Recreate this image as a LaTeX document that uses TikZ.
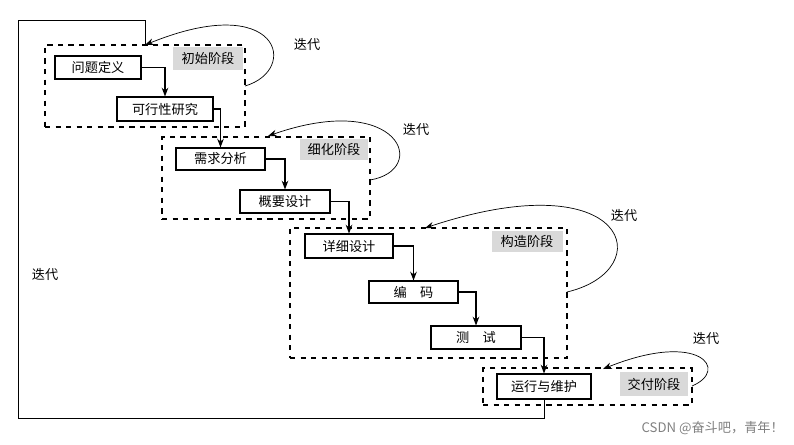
\documentclass[tikz,border=0pt]{standalone}
\usepackage{fontspec}
\newfontfamily\cjk{Noto Sans CJK SC}
\usetikzlibrary{arrows.meta}
\begin{document}
\begin{tikzpicture}[x=0.02cm, y=-0.02cm, font=\cjk\fontsize{7.5}{9}\selectfont,
  task/.style={draw, semithick, rectangle, inner sep=0pt},
  stage/.style={draw, dashed, semithick, inner sep=0pt},
  tag/.style={fill=gray!30, inner sep=0pt},
  flow/.style={-{Stealth[length=5pt]}, semithick},
  iter/.style={-{Stealth[length=5pt]}}]
\useasboundingbox (0,0) rectangle (794,444);
% Stages
\node[stage, minimum width=200*0.02cm, minimum height=82*0.02cm] (s1) at (145,86) {};
\node[tag, minimum width=70*0.02cm, minimum height=23*0.02cm] (t1) at (208,58) {初始阶段};
\node[stage, minimum width=208*0.02cm, minimum height=82*0.02cm] (s2) at (266,178) {};
\node[tag, minimum width=68*0.02cm, minimum height=21*0.02cm] (t2) at (334,149) {细化阶段};
\node[stage, minimum width=277*0.02cm, minimum height=130*0.02cm] (s3) at (428.5,293) {};
\node[tag, minimum width=71*0.02cm, minimum height=21*0.02cm] (t3) at (527,241) {构造阶段};
\node[stage, minimum width=209*0.02cm, minimum height=37*0.02cm] (s4) at (587.5,386.5) {};
\node[tag, minimum width=68*0.02cm, minimum height=24*0.02cm] (t4) at (654,384) {交付阶段};

% Steps
\node[task, minimum width=86*0.02cm, minimum height=23*0.02cm] (a1) at (98,67.5) {问题定义};
\node[task, minimum width=96*0.02cm, minimum height=24*0.02cm] (a2) at (165,109) {可行性研究};
\node[task, minimum width=89*0.02cm, minimum height=22*0.02cm] (b1) at (220.5,159) {需求分析};
\node[task, minimum width=90*0.02cm, minimum height=23*0.02cm] (b2) at (285,201.5) {概要设计};
\node[task, minimum width=88*0.02cm, minimum height=24*0.02cm] (c1) at (349,246) {详细设计};
\node[task, minimum width=89*0.02cm, minimum height=22*0.02cm] (c2) at (413.5,292) {编\quad 码};
\node[task, minimum width=90*0.02cm, minimum height=23*0.02cm] (c3) at (476,337.5) {测\quad 试};
\node[task, minimum width=94*0.02cm, minimum height=25*0.02cm] (d1) at (544,386.5) {运行与维护};

% Flow
\draw[flow] (a1.east) -| (a2.north);
\draw[flow] (a2.east) -| (b1.north);
\draw[flow] (b1.east) -| (b2.north);
\draw[flow] (b2.east) -| (c1.north);
\draw[flow] (c1.east) -| (c2.north);
\draw[flow] (c2.east) -| (c3.north);
\draw[flow] (c3.east) -| (d1.north);

% Iterations
\draw[iter] (245,86) .. controls (300,70) and (280,-10) .. (145,45);
\draw[iter] (370,180) .. controls (430,170) and (400,90) .. (268,136);
\draw[iter] (567,292) .. controls (660,270) and (630,160) .. (425,228);
\draw[iter] (692,386) .. controls (730,370) and (700,330) .. (603,369);
\draw (d1.south) -- (544,418) -- (18,418) -- (18,20) -- (145,20) -- (145,45);
\node (i1) at (307,45) {迭代};
\node (i2) at (416,129) {迭代};
\node (i3) at (624,215) {迭代};
\node (i4) at (706,338) {迭代};
\node (i0) at (45,274) {迭代};
\node[gray, anchor=east] (wm) at (790,428) {CSDN @奋斗吧，青年！};
\end{tikzpicture}
\end{document}
